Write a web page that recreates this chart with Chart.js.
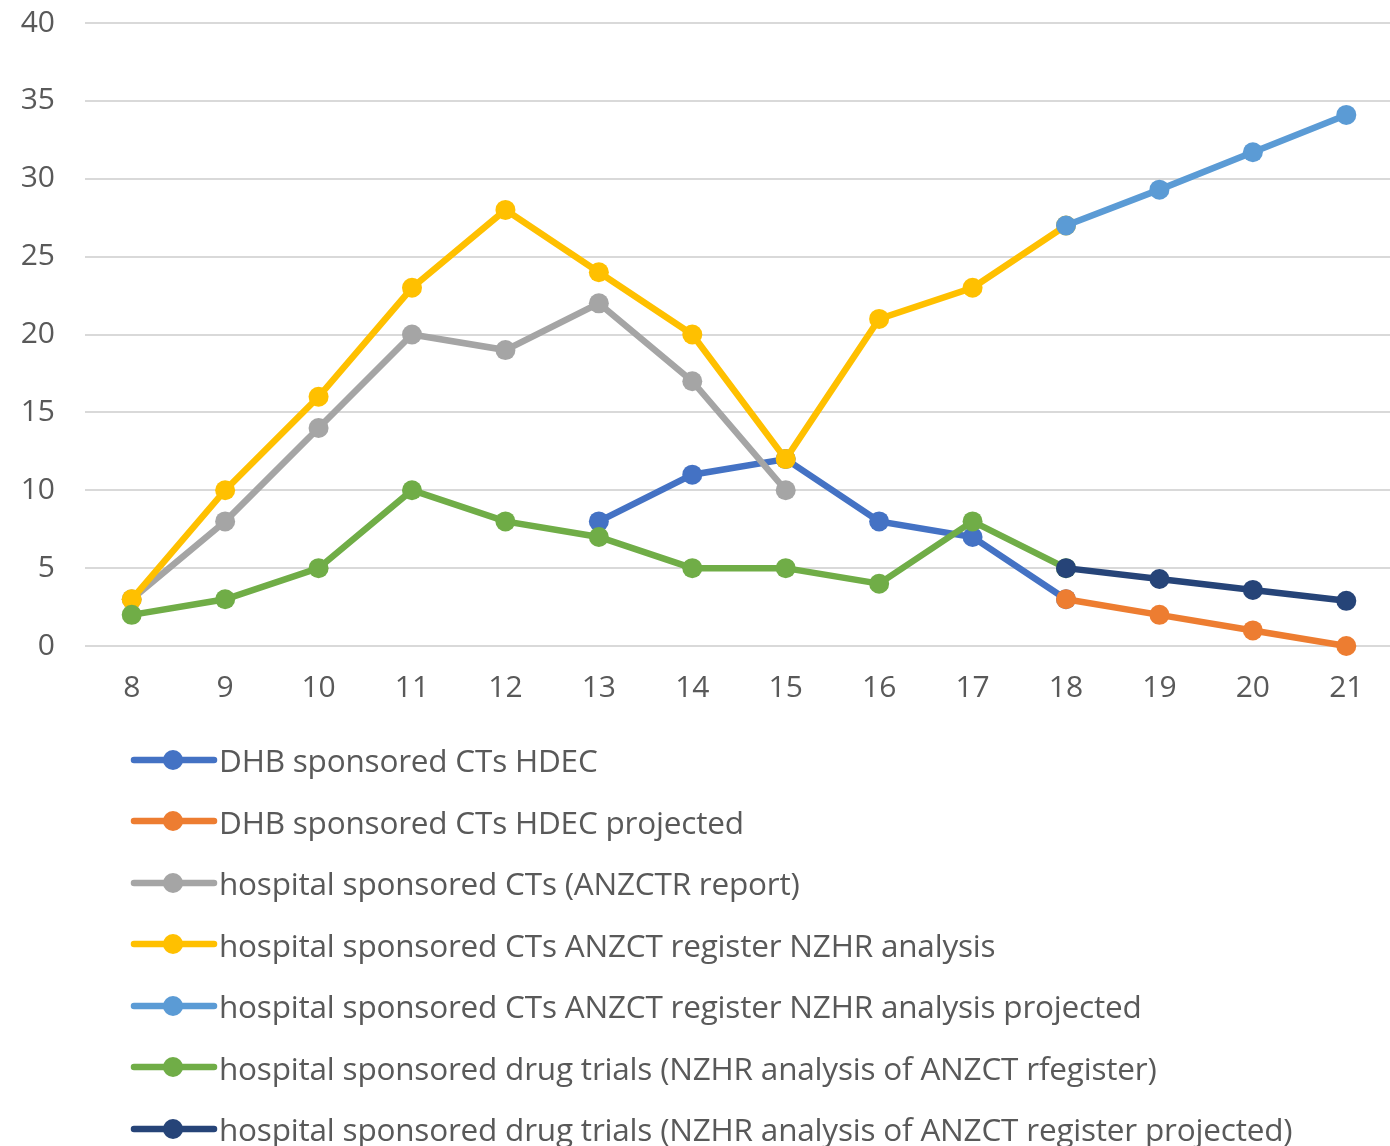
<!DOCTYPE html>
<html>
<head>
<meta charset="utf-8">
<script src="https://cdn.jsdelivr.net/npm/chart.js@4.4.0/dist/chart.umd.min.js"></script>
<style>
  html, body { margin: 0; background: #fff; font-family: "Open Sans", sans-serif; overflow: hidden; }
  #wrap { position: relative; width: 1403px; height: 745px; margin-top: -25px; }
  #legend { list-style: none; margin: 0; padding: 0; position: absolute; left: 130px; top: 729px; }
  #legend li { height: 61.5px; display: flex; align-items: center; font-size: 31.5px; color: #595959; letter-spacing: -0.2px; white-space: nowrap; }
  #legend canvas { margin-right: 1px; }
</style>
</head>
<body>
<div id="wrap"><canvas id="lineChart"></canvas></div>
<ul id="legend"></ul>
<script>
//Datos del gráfico
var years = ['8', '9', '10', '11', '12', '13', '14', '15', '16', '17', '18', '19', '20', '21'];
var dhbHdec = [null, null, null, null, null, 8, 11, 12, 8, 7, 3, null, null, null];
var dhbHdecProjected = [null, null, null, null, null, null, null, null, null, null, 3, 2, 1, 0];
var hospAnzctr = [3, 8, 14, 20, 19, 22, 17, 10, null, null, null, null, null, null];
var hospNzhr = [3, 10, 16, 23, 28, 24, 20, 12, 21, 23, 27, null, null, null];
var hospNzhrProjected = [null, null, null, null, null, null, null, null, null, null, 27, 29.3, 31.7, 34.1];
var drugTrials = [2, 3, 5, 10, 8, 7, 5, 5, 4, 8, 5, null, null, null];
var drugTrialsProjected = [null, null, null, null, null, null, null, null, null, null, 5, 4.3, 3.6, 2.9];
var yTicks = [0, 5, 10, 15, 20, 25, 30, 35, 40];

var series = [
    { label: 'DHB sponsored CTs HDEC', data: dhbHdec, color: '#4472C4' },
    { label: 'DHB sponsored CTs HDEC projected', data: dhbHdecProjected, color: '#ED7D31' },
    { label: 'hospital sponsored CTs (ANZCTR report)', data: hospAnzctr, color: '#A5A5A5' },
    { label: 'hospital sponsored CTs ANZCT register NZHR analysis', data: hospNzhr, color: '#FFC000' },
    { label: 'hospital sponsored CTs ANZCT register NZHR analysis projected', data: hospNzhrProjected, color: '#5B9BD5' },
    { label: 'hospital sponsored drug trials (NZHR analysis of ANZCT rfegister)', data: drugTrials, color: '#70AD47' },
    { label: 'hospital sponsored drug trials (NZHR analysis of ANZCT register projected)', data: drugTrialsProjected, color: '#264478' }
];

var datasets = series.map(function(s, i) {
    return {
        label: s.label,
        data: s.data,
        borderColor: s.color,
        backgroundColor: s.color,
        borderWidth: 6.5,
        pointRadius: 10,
        pointHoverRadius: 10,
        pointBorderWidth: 0,
        spanGaps: false,
        tension: 0,
        clip: false,
        order: series.length - i
    };
});

var ctx = document.getElementById('lineChart').getContext('2d');
var chart = new Chart(ctx, {
    type: 'line',
    data: { labels: years, datasets: datasets },
    options: {
        responsive: true,
        maintainAspectRatio: false,
        animation: false,
        layout: { padding: { top: 0, right: 0, left: 0, bottom: 0 } },
        plugins: { legend: { display: false }, tooltip: { enabled: false } },
        scales: {
            x: {
                offset: true,
                grid: { display: false, drawTicks: false },
                border: { display: false },
                ticks: { color: '#595959', font: { family: 'Open Sans', size: 30 }, padding: 24 },
                afterFit: function(scale) { scale.height = 74; }
            },
            y: {
                min: 0,
                max: 40,
                afterBuildTicks: function(scale) {
                    scale.ticks = yTicks.map(function(v) { return { value: v }; });
                },
                grid: { color: '#D9D9D9', lineWidth: 2, drawTicks: false },
                border: { display: false },
                ticks: { color: '#595959', font: { family: 'Open Sans', size: 30 }, padding: 30 },
                afterFit: function(scale) { scale.width = 85; }
            }
        }
    }
});

//Leyenda en HTML, una serie por línea
var legend = document.getElementById('legend');
series.forEach(function(s) {
    var li = document.createElement('li');
    var c = document.createElement('canvas');
    c.width = 88; c.height = 24;
    var g = c.getContext('2d');
    g.strokeStyle = s.color; g.lineWidth = 6.5; g.lineCap = 'round';
    g.beginPath(); g.moveTo(4, 12); g.lineTo(84, 12); g.stroke();
    g.fillStyle = s.color;
    g.beginPath(); g.arc(43, 12, 10, 0, Math.PI * 2); g.fill();
    li.appendChild(c);
    li.appendChild(document.createTextNode(s.label));
    legend.appendChild(li);
});
</script>
</body>
</html>
